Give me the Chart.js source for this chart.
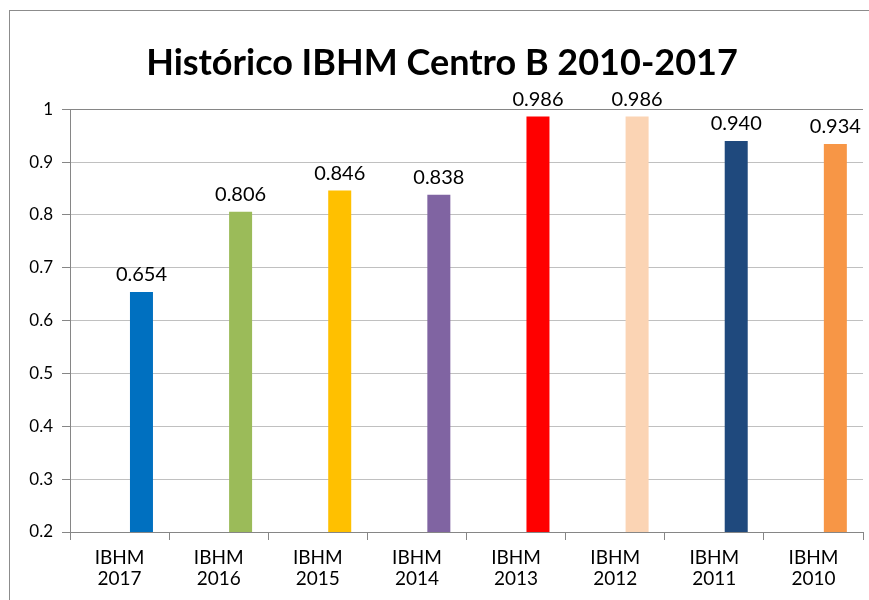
<!DOCTYPE html>
<html>
<head>
<meta charset="utf-8">
<script src="https://cdn.jsdelivr.net/npm/chart.js@4/dist/chart.umd.min.js"></script>
<style>
  html, body { margin: 0; padding: 0; background: #fff; overflow: hidden; }
  #wrap { position: relative; width: 869px; height: 600px; }
  #frame { position: absolute; left: 9px; top: 10px; width: 900px; height: 640px;
           border-left: 1px solid #8c8c8c; border-top: 1px solid #8c8c8c; pointer-events: none; }
  canvas { position: absolute; left: 0; top: 0; }
</style>
</head>
<body>
<div id="wrap">
  <div id="frame"></div>
  <canvas id="c" width="869" height="600"></canvas>
</div>
<script>
// Years shown, newest first
const categories = [
  ["IBHM", "2017"], ["IBHM", "2016"], ["IBHM", "2015"], ["IBHM", "2014"],
  ["IBHM", "2013"], ["IBHM", "2012"], ["IBHM", "2011"], ["IBHM", "2010"]
];
// IBHM index per year
const ibhmValues = [0.654, 0.806, 0.846, 0.838, 0.986, 0.986, 0.940, 0.934];
// Empty companion series (keeps the bars in the right-hand slot of each year)
const emptySeries = [null, null, null, null, null, null, null, null];
const barColors = ["#0070C0", "#9BBB59", "#FFC000", "#8064A2", "#FF0000", "#FBD4B4", "#1F497D", "#F79646"];
const yTicks = [0.2, 0.3, 0.4, 0.5, 0.6, 0.7, 0.8, 0.9, 1];

const FONT = "Lato, 'Open Sans', sans-serif";

// Value labels above each bar
const valueLabels = {
  id: "valueLabels",
  afterDatasetsDraw(chart) {
    const ctx = chart.ctx;
    const meta = chart.getDatasetMeta(1);
    ctx.save();
    ctx.font = "20px " + FONT;
    ctx.fillStyle = "#000";
    ctx.textAlign = "center";
    ctx.textBaseline = "alphabetic";
    meta.data.forEach((bar, i) => {
      const v = chart.data.datasets[1].data[i];
      ctx.fillText(v.toFixed(3), bar.x, bar.y - 11);
    });
    ctx.restore();
  }
};

new Chart(document.getElementById("c"), {
  type: "bar",
  data: {
    labels: categories,
    datasets: [
      { label: "", data: emptySeries, backgroundColor: "transparent" },
      { label: "IBHM", data: ibhmValues, backgroundColor: barColors }
    ]
  },
  options: {
    responsive: false,
    animation: false,
    devicePixelRatio: 1,
    datasets: { bar: { categoryPercentage: 0.884, barPercentage: 0.525 } },
    layout: { padding: { left: 21, right: 6, top: 0, bottom: 0 } },
    plugins: {
      legend: { display: false },
      tooltip: { enabled: false },
      title: {
        display: true,
        text: "Histórico IBHM Centro B 2010-2017",
        color: "#000",
        font: { family: FONT, size: 36, weight: "bold" },
        padding: { top: 42, bottom: 24 }
      }
    },
    scales: {
      x: {
        grid: { display: true, drawOnChartArea: false, drawTicks: true, tickLength: 8, color: "#868686", offset: true },
        border: { display: true, color: "#868686", width: 1 },
        ticks: { color: "#000", font: { family: FONT, size: 19, lineHeight: 1.13 }, padding: 7, maxRotation: 0, autoSkip: false },
        afterFit(s) { s.height = 68; }
      },
      y: {
        min: 0.2,
        max: 1,
        afterBuildTicks(s) { s.ticks = yTicks.map(v => ({ value: v })); },
        grid: {
          color: c => (c.tick && c.tick.value === 1 ? "#868686" : "#c0c0c0"),
          tickColor: "#868686",
          tickLength: 8,
          lineWidth: 1
        },
        border: { display: true, color: "#868686", width: 1 },
        ticks: {
          color: "#000",
          font: { family: FONT, size: 17 },
          padding: 9,
          callback: v => String(Math.round(v * 10) / 10)
        },
        afterFit(s) { s.width = 49; }
      }
    }
  },
  plugins: [valueLabels]
});
</script>
</body>
</html>
